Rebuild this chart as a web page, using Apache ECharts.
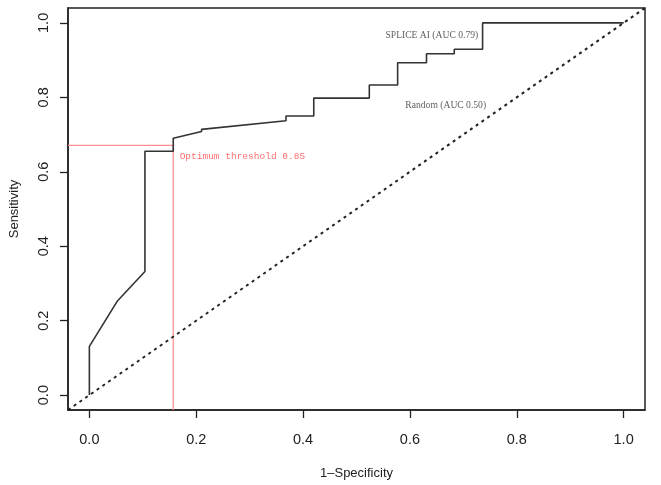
<!DOCTYPE html>
<html><head><meta charset="utf-8">
<script src="https://cdn.jsdelivr.net/npm/echarts@6/dist/echarts.min.js"></script>
<style>html,body{margin:0;padding:0;background:#fff}#c{width:661px;height:485px}</style>
</head><body><div id="c"></div>
<script>
const fpr = [0, 0, 0.052, 0.104, 0.104, 0.157, 0.157, 0.210, 0.210, 0.368, 0.368, 0.420, 0.420, 0.524, 0.524, 0.577, 0.577, 0.631, 0.631, 0.683, 0.683, 0.736, 0.736, 1.0];
const tpr = [0, 0.131, 0.252, 0.332, 0.655, 0.655, 0.690, 0.708, 0.714, 0.737, 0.750, 0.750, 0.798, 0.798, 0.833, 0.833, 0.893, 0.893, 0.917, 0.917, 0.929, 0.929, 1.0, 1.0];
const randomLine = [[-0.04, -0.04], [1.04, 1.04]];
const optimum = {fpr: 0.157, tpr: 0.671, label: 'Optimum threshold 0.85'};
const tickValues = [0, 0.2, 0.4, 0.6, 0.8, 1.0];
const tickLabels = ['0.0', '0.2', '0.4', '0.6', '0.8', '1.0'];
const annotations = [
  {text: 'SPLICE AI (AUC 0.79)', pos: [0.641, 0.966]},
  {text: 'Random (AUC 0.50)', pos: [0.667, 0.778]}
];

const chart = echarts.init(document.getElementById('c'), null, {renderer: 'canvas'});
const lbl = v => tickLabels[tickValues.indexOf(Math.round(v * 10) / 10)] || '';
const axisCommon = {
  type: 'value', min: -0.04, max: 1.04,
  splitLine: {show: false},
  axisLine: {show: true, onZero: false, lineStyle: {color: '#222', width: 1.5}},
  axisTick: {show: true, customValues: tickValues, length: 8, inside: false, lineStyle: {color: '#222', width: 1.3}},
};
chart.setOption({
  animation: false,
  grid: {left: 67, top: 8, right: 16, bottom: 74, containLabel: false,
         show: true, borderColor: '#222', borderWidth: 1.5, backgroundColor: 'transparent'},
  xAxis: Object.assign({}, axisCommon, {
    position: 'bottom',
    name: '1\u2013Specificity', nameLocation: 'middle', nameGap: 57,
    nameTextStyle: {fontFamily: 'Liberation Sans', fontSize: 13, color: '#222'},
    axisLabel: {customValues: tickValues, formatter: lbl, margin: 22, fontFamily: 'Liberation Sans', fontSize: 14.5, color: '#222'}
  }),
  yAxis: Object.assign({}, axisCommon, {
    position: 'left',
    name: 'Sensitivity', nameLocation: 'middle', nameGap: 47, nameRotate: 90,
    nameTextStyle: {fontFamily: 'Liberation Sans', fontSize: 13, color: '#222'},
    axisLabel: {customValues: tickValues, formatter: lbl, rotate: 90, margin: 17, fontFamily: 'Liberation Sans', fontSize: 14.5, color: '#222'}
  }),
  series: [
    {type: 'line', data: [[-0.04, optimum.tpr], [optimum.fpr, optimum.tpr], [optimum.fpr, -0.04]],
     showSymbol: false, lineStyle: {color: '#ff8c8c', width: 1.2}, silent: true, z: 1},
    {type: 'line', data: randomLine, showSymbol: false,
     lineStyle: {color: '#222', width: 2, type: [3, 4]}, silent: true, z: 2},
    {type: 'line', data: fpr.map((x, i) => [x, tpr[i]]), showSymbol: false,
     lineStyle: {color: '#333', width: 1.6}, silent: true, z: 3},
    {type: 'scatter', symbolSize: 0, silent: true, z: 4,
     data: annotations.map(a => ({value: a.pos, name: a.text})),
     label: {show: true, position: 'inside', formatter: p => p.name, fontFamily: 'Liberation Serif', fontSize: 9.6, color: '#333'}},
    {type: 'scatter', symbolSize: 0, silent: true, z: 4,
     data: [{value: [0.169, 0.64], name: optimum.label}],
     label: {show: true, position: 'right', distance: 0, formatter: p => p.name, fontFamily: 'Liberation Mono', fontSize: 9.5, color: '#ff4a4a'}}
  ]
});
</script></body></html>
